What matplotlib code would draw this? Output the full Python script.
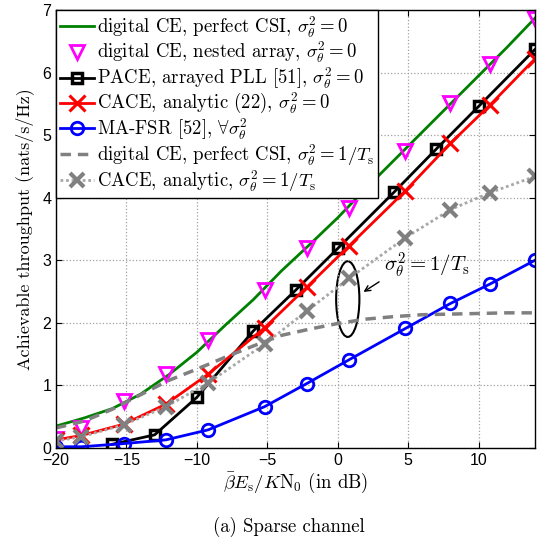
import matplotlib
matplotlib.use("Agg")
import matplotlib.pyplot as plt
from matplotlib.patches import Ellipse

# SNR grid of the smooth curves (dB)
snr_fine = [-20, -18, -16, -14, -12, -10, -8, -6, -4, -2, 0, 2, 4, 6, 8, 10, 12, 14]
digital_perfect = [0.35, 0.48, 0.63, 0.86, 1.17, 1.53, 1.96, 2.37, 2.83, 3.25,
                   3.68, 4.15, 4.60, 5.05, 5.50, 5.95, 6.40, 6.87]
digital_perfect_noise = [0.32, 0.43, 0.62, 0.85, 1.08, 1.26, 1.45, 1.63, 1.80, 1.90,
                         1.99, 2.06, 2.10, 2.13, 2.14, 2.15, 2.16, 2.16]

# SNR points of the marker curves (dB)
snr_marks = [-20, -18.2, -15.2, -12.2, -9.2, -5.2, -2.2, 0.8, 4.8, 8, 10.8, 14]
nested_array = [0.14, 0.32, 0.75, 1.19, 1.72, 2.53, 3.19, 3.84, 4.75, 5.52, 6.13, 6.86]
cace = [0.13, 0.20, 0.38, 0.70, 1.18, 1.92, 2.57, 3.23, 4.11, 4.87, 5.48, 6.22]
ma_fsr = [0.02, 0.02, 0.07, 0.13, 0.29, 0.66, 1.03, 1.41, 1.91, 2.31, 2.62, 3.00]
cace_noise = [0.11, 0.18, 0.37, 0.66, 1.04, 1.66, 2.19, 2.71, 3.36, 3.81, 4.08, 4.34]

snr_pace = [-16, -13, -10, -6, -3, 0, 4, 7, 10, 14]
pace = [0.06, 0.21, 0.81, 1.87, 2.52, 3.19, 4.09, 4.78, 5.46, 6.37]

plt.rcParams['font.family'] = 'serif'
plt.rcParams['font.serif'] = ['cmr10']
plt.rcParams['mathtext.fontset'] = 'cm'
plt.rcParams['axes.formatter.use_mathtext'] = False

fig = plt.figure(figsize=(5.41, 5.40), dpi=100)
ax = fig.add_axes([56 / 541, 1 - 448 / 540, (535 - 56) / 541, (448 - 10) / 540])

gray = '#808080'
ax.plot(snr_fine, digital_perfect, color='#008000', lw=2,
        label=r'digital CE, perfect CSI, $\sigma_\theta^2 = 0$')
ax.plot(snr_marks, nested_array, ls='none', marker='v', ms=10, mfc='none',
        mec='#ff00ff', mew=2, label=r'digital CE, nested array, $\sigma_\theta^2 = 0$')
ax.plot(snr_pace, pace, color='black', lw=2, marker='s', ms=7, mfc='none', mew=2.5,
        label=r'PACE, arrayed PLL [51], $\sigma_\theta^2 = 0$')
ax.plot(snr_marks, cace, color='red', lw=2, marker='x', ms=11, mew=2.2,
        label=r'CACE, analytic (22), $\sigma_\theta^2 = 0$')
ax.plot(snr_marks, ma_fsr, color='blue', lw=2, marker='o', ms=9, mfc='none', mew=2,
        label=r'MA-FSR [52], $\forall\sigma_\theta^2$')
ax.plot(snr_fine, digital_perfect_noise, color=gray, lw=2.5, ls=(0, (3, 2)),
        label=r'digital CE, perfect CSI, $\sigma_\theta^2 = 1/T_{\rm s}$')
ax.plot(snr_marks, cace_noise, color='#a8a8a8', lw=2, ls=(0, (1, 1)), marker='x', ms=10,
        mec=gray, mew=3, label=r'CACE, analytic, $\sigma_\theta^2 = 1/T_{\rm s}$')

# annotation for the phase noise curves
ax.add_patch(Ellipse((0.71, 2.38), 1.65, 1.21, fill=False, ec='black', lw=1.5))
ax.annotate('', xy=(1.66, 2.47), xytext=(3.1, 2.68),
            arrowprops=dict(arrowstyle='->', color='black', lw=1))
ax.text(3.3, 2.92, r'$\sigma_\theta^2 = 1/T_{\rm s}$', fontsize=15, ha='left', va='center')

ax.set_xlim(-20, 14)
ax.set_ylim(0, 7)
ax.set_xticks([-20, -15, -10, -5, 0, 5, 10])
ax.set_yticks(range(8))
ax.grid(True, ls=':', color='#a0a0a0', lw=0.9)
ax.tick_params(direction='in', top=True, right=True, length=4, labelsize=11.5)
for lab in ax.get_xticklabels() + ax.get_yticklabels():
    lab.set_fontfamily('Liberation Sans')
for sp in ax.spines.values():
    sp.set_linewidth(1)

ax.set_xlabel(r'$\bar{\beta}E_{\rm s}/K{\rm N}_0$ (in dB)', fontsize=13.5, labelpad=2)
ax.set_ylabel('Achievable throughput (nats/s/Hz)', fontsize=13, labelpad=6)

leg = ax.legend(loc='upper left', borderaxespad=0, fontsize=13.5, handlelength=1.8,
                handletextpad=0.2, labelspacing=0.0, borderpad=0.2, fancybox=False,
                framealpha=1, edgecolor='black')
leg.get_frame().set_linewidth(1)

fig.text(289 / 541, 1 - 527 / 540, '(a) Sparse channel', fontsize=13.5, ha='center', va='center')

fig.savefig('out.png', dpi=100)
